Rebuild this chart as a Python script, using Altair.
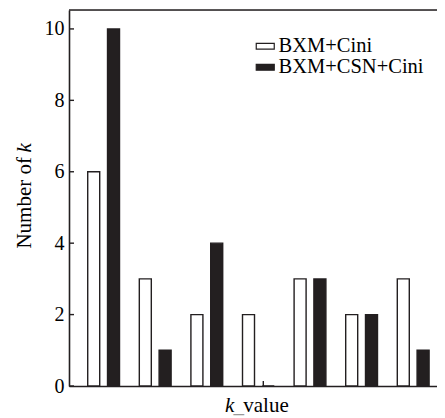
import altair as alt
import pandas as pd

groups = [1, 2, 3, 4, 5, 6, 7]
series_names = ["BXM+Cini", "BXM+CSN+Cini"]
vals_cini = [6, 3, 2, 2, 3, 2, 3]
vals_csn = [10, 1, 4, 0, 3, 2, 1]
y_ticks = [0, 2, 4, 6, 8, 10]

rows = []
for g, a, b in zip(groups, vals_cini, vals_csn):
    rows.append({"group": g, "series": series_names[0], "value": a})
    rows.append({"group": g, "series": series_names[1], "value": b})
df = pd.DataFrame(rows)

W, H = 368, 376
FONT = "'Liberation Serif', 'Times New Roman', Times, serif"
INK = "#231f20"
ydom = [0, 10.53]

bars = alt.Chart(df).mark_bar(stroke=INK, strokeWidth=1.4).encode(
    x=alt.X("group:N", axis=alt.Axis(labels=False, ticks=False, title=None,
                                      domainColor=INK, domainWidth=1.6),
            scale=alt.Scale(paddingInner=0.3837, paddingOuter=0.258, align=0.703)),
    xOffset=alt.XOffset("series:N", sort=series_names,
                        scale=alt.Scale(paddingInner=0.394, paddingOuter=0)),
    y=alt.Y("value:Q", scale=alt.Scale(domain=ydom, nice=False),
            axis=alt.Axis(values=y_ticks, ticks=False, labelPadding=5, title=None,
                          grid=False, domainColor=INK, domainWidth=1.6,
                          labelFont=FONT, labelFontSize=20, labelColor="black")),
    color=alt.Color("series:N", sort=series_names,
                    scale=alt.Scale(domain=series_names, range=["white", INK]),
                    legend=alt.Legend(orient="none", legendX=186, legendY=26, title=None,
                                      symbolType="M-1,-0.33H1V0.33H-1Z", symbolSize=324,
                                      symbolStrokeColor=INK, symbolStrokeWidth=1.2,
                                      labelFont=FONT, labelFontSize=20.5, labelColor="black",
                                      labelOffset=3, rowPadding=-2, padding=0)),
)

tick_df = pd.DataFrame({"tick": y_ticks})
yticks = alt.Chart(tick_df).mark_rule(color=INK, strokeWidth=1.4).encode(
    y=alt.Y("tick:Q", scale=alt.Scale(domain=ydom, nice=False)),
    x=alt.value(0), x2=alt.value(5),
)

one = pd.DataFrame({"t": [""]})
top_border = alt.Chart(one).mark_rule(color=INK, strokeWidth=1.6).encode(
    x=alt.value(0), x2=alt.value(W), y=alt.value(0))
mid_tick = alt.Chart(one).mark_rule(color=INK, strokeWidth=1.4).encode(
    x=alt.value(194.3), y=alt.value(H), y2=alt.value(H - 5))

def txt(s, x, y, align, italic=False, angle=0, color="black", baseline="alphabetic"):
    d = pd.DataFrame({"t": [s]})
    kw = dict(font=FONT, fontSize=21, align=align, baseline=baseline, color=color)
    if italic:
        kw["fontStyle"] = "italic"
    if angle:
        kw["angle"] = angle
    return alt.Chart(d).mark_text(**kw).encode(x=alt.value(x), y=alt.value(y), text="t:N")

ytitle1 = txt("Number of", -44, 147, "right", angle=270, baseline="middle")
ytitle2 = txt("k", -44, 142.5, "left", italic=True, angle=270, baseline="middle")
xtitle1 = txt("k", 156.0, 402, "left", italic=True)
xtitle2 = txt("_", 164.5, 402, "left", color="#999999")
xtitle3 = txt("value", 174.3, 402, "left")

chart = alt.layer(bars, yticks, top_border, mid_tick,
                  ytitle1, ytitle2, xtitle1, xtitle2, xtitle3).properties(
    width=W, height=H,
    autosize=alt.AutoSizeParams(type="none"),
    padding={"left": 61, "top": 2, "right": 0, "bottom": 32},
).configure_view(stroke=None).configure(background="white")

chart.save("out.html", embed_options={"renderer": "svg", "actions": False})
